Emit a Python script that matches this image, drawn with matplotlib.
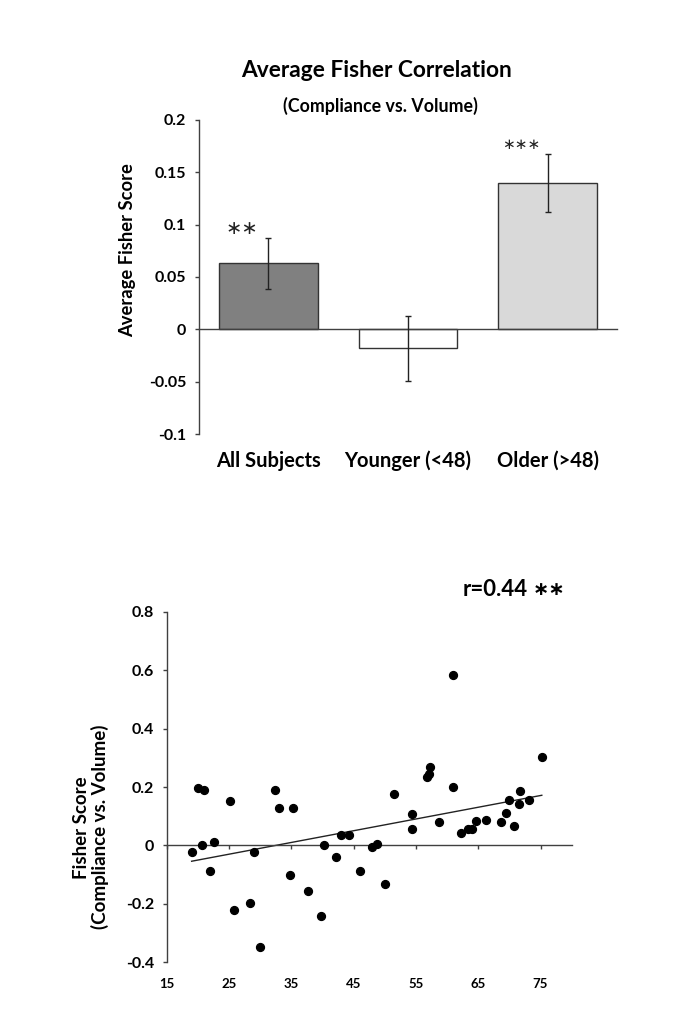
import numpy as np
import matplotlib
matplotlib.use("Agg")
import matplotlib.pyplot as plt

plt.rcParams['font.family'] = ['Lato', 'DejaVu Sans']

# bar chart data
groups = ["All Subjects", "Younger (<48)", "Older (>48)"]
mean_fisher = [0.063, -0.018, 0.140]
sem_fisher = [0.024, 0.031, 0.0275]
bar_colors = ["#808080", "#ffffff", "#d9d9d9"]
stars = ["\u2217\u2217", "", "\u2217\u2217\u2217"]
star_sizes = [14, 0, 11]

# scatter data: age vs fisher score
age = [19.0, 20.1, 21.0, 20.6, 21.9, 22.6, 25.1, 25.8, 28.4, 29.0,
       29.9, 32.4, 33.0, 34.8, 35.3, 37.7, 39.8, 40.2, 42.2, 42.9,
       44.3, 46.0, 47.9, 48.7, 50.0, 51.4, 54.4, 54.3, 56.8, 57.1,
       57.3, 58.7, 60.9, 61.0, 62.3, 63.3, 64.0, 64.7, 66.3, 68.6,
       69.4, 69.9, 70.8, 71.5, 71.7, 73.2, 75.2]
score = [-0.022, 0.198, 0.189, 0.0, -0.089, 0.013, 0.153, -0.221, -0.196, -0.022,
         -0.348, 0.190, 0.128, -0.102, 0.129, -0.157, -0.242, 0.0, -0.041, 0.035,
         0.037, -0.089, -0.006, 0.006, -0.132, 0.177, 0.107, 0.055, 0.233, 0.244,
         0.268, 0.079, 0.582, 0.201, 0.041, 0.055, 0.055, 0.084, 0.087, 0.082,
         0.110, 0.157, 0.066, 0.141, 0.187, 0.154, 0.303]
x_ticks = [15, 25, 35, 45, 55, 65, 75]

axis_col = "#404040"

fig = plt.figure(figsize=(6.79, 10.15), dpi=100)

# ---------- top: bar chart ----------
ax1 = fig.add_axes([0.2926, 0.5724, 0.6165, 0.3094])
xpos = np.arange(len(groups))
ax1.bar(xpos, mean_fisher, width=0.706, color=bar_colors, edgecolor="#333333", linewidth=1.0, zorder=2)
ax1.errorbar(xpos, mean_fisher, yerr=sem_fisher, fmt="none", ecolor="#222222",
             elinewidth=1.0, capsize=2, capthick=1.0, zorder=3)
for i, s in enumerate(stars):
    if s:
        top = mean_fisher[i] + sem_fisher[i]
        ax1.text(i - 0.19, top + 0.009, s, ha="center", va="center", fontsize=star_sizes[i],
                 family="DejaVu Sans", color="#222222")

ax1.set_xlim(-0.5, 2.5)
ax1.set_ylim(-0.1, 0.2)
ax1.set_yticks([-0.1, -0.05, 0, 0.05, 0.1, 0.15, 0.2])
ax1.set_yticklabels(["-0.1", "-0.05", "0", "0.05", "0.1", "0.15", "0.2"], fontweight="bold", fontsize=11.5)
ax1.spines["top"].set_visible(False)
ax1.spines["right"].set_visible(False)
ax1.spines["bottom"].set_position(("data", 0))
for sp in ["left", "bottom"]:
    ax1.spines[sp].set_color(axis_col)
    ax1.spines[sp].set_linewidth(1.0)
ax1.tick_params(axis="y", direction="out", length=3, width=1, color=axis_col, pad=6)
ax1.tick_params(axis="x", length=0, labelbottom=False)

sec1 = ax1.secondary_xaxis(0)
sec1.spines["bottom"].set_visible(False)
sec1.set_xticks(xpos)
sec1.set_xticklabels(groups, fontweight="bold", fontsize=14.5)
sec1.tick_params(length=0, pad=12)

fig.text(0.555, 0.931, "Average Fisher Correlation", ha="center", va="center",
         fontsize=16.4, fontweight="bold")
fig.text(0.560, 0.896, "(Compliance vs. Volume)", ha="center", va="center",
         fontsize=12.8, fontweight="bold")
fig.text(0.188, 0.754, "Average Fisher Score", rotation=90, ha="center", va="center",
         fontsize=13.2, fontweight="bold")

# ---------- bottom: scatter ----------
ax2 = fig.add_axes([0.2455, 0.0519, 0.5965, 0.3454])
ax2.scatter(age, score, s=32, color="black", zorder=3)
k, b = np.polyfit(age, score, 1)
xl = np.array([min(age), max(age)])
ax2.plot(xl, k * xl + b, color="#222222", linewidth=1.0, zorder=2)

ax2.set_xlim(15, 80)
ax2.set_ylim(-0.4, 0.8)
ax2.set_yticks([-0.4, -0.2, 0, 0.2, 0.4, 0.6, 0.8])
ax2.set_yticklabels(["-0.4", "-0.2", "0", "0.2", "0.4", "0.6", "0.8"], fontweight="bold", fontsize=11.5)
ax2.set_xticks(x_ticks)
ax2.spines["top"].set_visible(False)
ax2.spines["right"].set_visible(False)
ax2.spines["bottom"].set_position(("data", 0))
for sp in ["left", "bottom"]:
    ax2.spines[sp].set_color(axis_col)
    ax2.spines[sp].set_linewidth(1.0)
ax2.tick_params(axis="y", direction="out", length=3, width=1, color=axis_col, pad=6)
ax2.tick_params(axis="x", direction="out", length=3, width=1, color=axis_col, labelbottom=False)

sec2 = ax2.secondary_xaxis(0)
sec2.spines["bottom"].set_visible(False)
sec2.set_xticks(x_ticks)
sec2.set_xticklabels([str(t) for t in x_ticks], fontweight="bold", fontsize=9.5)
sec2.tick_params(length=0, pad=11)

fig.text(0.134, 0.185, "Fisher Score\n(Compliance vs. Volume)", rotation=90, ha="center",
         va="center", fontsize=13.5, fontweight="bold", linespacing=1.05)
fig.text(0.681, 0.419, "r=0.44", ha="left", va="center", fontsize=16, fontweight="bold")
fig.text(0.785, 0.419, "\u2217\u2217", ha="left", va="center", fontsize=14,
         family="DejaVu Sans", fontweight="bold")

fig.savefig("out.png", dpi=100, facecolor="white")
